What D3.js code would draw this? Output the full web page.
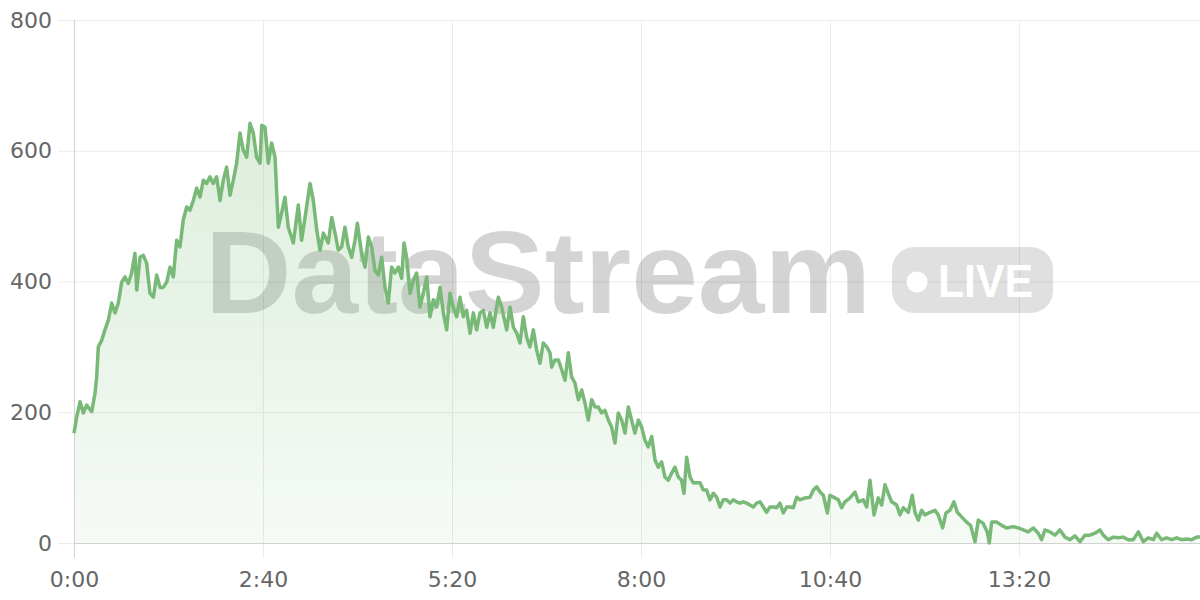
<!DOCTYPE html>
<html>
<head>
<meta charset="utf-8">
<script src="https://cdn.jsdelivr.net/npm/d3@7"></script>
<style>
  body { margin: 0; background: #fff; }
  svg { display: block; font-family: "Liberation Sans", Arial, Helvetica, sans-serif; }
</style>
</head>
<body>
<div id="chart"></div>
<script>

// Chart size and plot box
const width = 1200;
const height = 600;
const margin = {left: 74, right: 0, top: 20, bottom: 57};

// Elapsed time in seconds
const seconds = [
  0, 2.3, 5.1, 7.9, 10.7, 15, 17.8, 19.2, 20.6, 23.4, 26.2, 29.1, 31.9, 34.7, 37.5, 40.4,
  43.2, 46, 48.8, 51.6, 53.1, 55.9, 58.7, 61.5, 64.3, 67.2, 70, 72.8, 75.6, 78.5, 81.3, 84.1,
  86.9, 89.7, 92.5, 95.4, 98.2, 101, 103.9, 106.7, 109.5, 112.3, 115.1, 117.9, 120.8, 123.6,
  126.4, 129.2, 132.1, 134.9, 137.7, 140.5, 143.3, 146.2, 149, 151.8, 154.6, 157.5, 158.9,
  161.7, 164.5, 167.3, 170.2,
  173, 175.8, 178.6, 181.4, 185.7, 189.9, 192.7, 195.6, 199.8, 202.6, 205.5, 208.3, 211.1,
  215.3, 218.2, 221, 223.8, 226.6, 229.4, 232.2, 235.1, 237.9, 239.9, 243.5, 246.4, 249.2,
  252, 254.8, 257.6, 260.5, 263.3, 266.1, 268.9, 271.8, 274.6, 277.4, 279.4, 281.6, 284.5,
  287.3, 290.1, 292.9, 295.7, 298.6, 301.4, 304.2, 307, 309.9, 312.7, 315.5, 318.3, 321.1,
  324, 326.8, 329.6, 332.4, 335.3, 338.1, 340.9, 343.7, 346.5, 349.4, 352.2, 355, 359.2,
  362.1, 366.3, 369.1, 372, 374.8, 377.6, 380.4, 383.2, 386, 388.9, 391.7, 394.5, 397.3,
  400.2, 403,
  404.4, 407.2, 410, 412.9, 415.7, 418.5, 421.3, 424.1, 427, 429.8, 432.6, 435.4, 438.3,
  441.1, 443.9, 446.7, 449.5, 452.4, 455.2, 458, 460.8, 463.7, 466.5, 469.3, 472.1, 474.9,
  477.8, 480.6, 483.4, 486.2, 489.1, 491.9, 494.7, 497.5, 500.3, 503.1, 506, 508.8, 511.6,
  514.4, 516.4, 518.7, 521.5, 524.3, 527.2, 530, 532.8, 535.6, 538.4, 541.3, 544.1, 546.9,
  549.7, 552.6, 555.4, 558.2, 561, 563.8, 566.6, 569.5, 572.3, 575.1, 577.9, 580.8, 583.6,
  586.4, 589.2, 592, 594.9, 597.7, 600.5, 603.3, 606.2, 609, 611.8, 614.6,
  618.9, 623.1, 626, 628.8, 631.6, 634.4, 637.8, 640, 644.3, 647.1, 649.9, 652.7, 657,
  661.2, 664, 668.2, 671.1, 673.9, 677.3, 680.9, 683.8, 686.6, 689.4, 692.2, 696.5, 699.3,
  702.1, 706.3, 709.7, 712, 714.8, 717.6, 720.4, 724.7, 728.9, 731.7, 735.4, 738.2, 741.6,
  745, 747.8, 751.5, 755.7, 759.1, 762.8, 765.6, 769.8, 773.2, 774.9, 776.9, 781.1, 785.4,
  789.6, 795.2, 799.5, 803.7, 807.9, 812.2, 816.4, 819.2, 822, 826.3, 830.5, 834.7, 839,
  843.2, 847.4, 851.7, 855.9, 860.1, 864.4, 868.6, 871.4, 875.6, 879.9, 884.1, 888.4,
  892.6, 896.8, 901.1, 905.3, 909.5, 913.8, 916.6, 920.8, 925, 929.3, 933.5, 937.8, 942,
  946.2, 950.5, 953.3
];

// Stream value at each of those times
const values = [
  168, 193, 216, 199, 211, 201, 229, 254, 300, 310, 326, 341, 367, 352, 367, 399,
  407, 397, 413, 443, 387, 437, 440, 428, 382, 376, 410, 391, 391, 399, 422, 407,
  463, 453, 494, 514, 509, 524, 543, 529, 555, 550, 560, 550, 560, 524,
  555, 575, 532, 555, 581, 627, 601, 590, 642, 627, 590, 581, 639,
  636, 581, 612, 590,
  483, 505, 529, 483, 459, 517, 463, 498, 550, 524, 479, 448, 474,
  459, 498, 474, 448, 453, 483, 453, 437, 463, 489, 443, 422, 468,
  453, 417, 410, 437, 391, 367, 422, 413, 422, 405, 459, 437, 382,
  402, 413, 361, 382, 407, 346, 372, 361, 391, 352, 326, 382, 361,
  346, 376, 346, 356, 321, 352, 326, 352, 356, 330, 352, 330, 376,
  361, 326, 361, 330, 321, 306, 346, 315, 300, 326, 295, 275, 306,
  300, 291,
  269, 280, 280, 265, 249, 291, 254, 245, 219, 234, 214, 188, 219,
  208, 208, 199, 203, 188, 177, 153, 199, 188, 168, 208, 188, 168,
  188, 177, 157, 147, 163, 127, 116, 124, 101, 96, 107, 116, 101,
  96, 76, 131, 101, 92, 92, 92, 81, 81, 66, 76, 70, 55,
  66, 66, 61, 66, 63, 61, 63, 61, 58, 55, 61, 63, 55,
  47, 55, 55, 54, 61, 46, 55, 55, 54, 70, 66,
  69, 70, 81, 86, 78, 73, 46, 73, 69, 66, 54, 63, 69,
  78, 63, 66, 55, 96, 43, 69, 58, 89, 76, 63, 58, 43,
  54, 47, 73, 47, 35, 50, 43, 47, 50, 43, 23, 46, 50,
  63, 47, 40, 32, 27, 2, 35, 30, 17, 0, 32, 32, 27,
  23, 25, 23, 20, 17, 23, 15, 5, 20, 17, 12, 20, 9,
  5, 11, 2, 12, 12, 15, 20, 12, 5, 9, 8, 9,
  5, 5, 17, 2, 8, 5, 15, 5, 8, 5, 8, 5, 6,
  5, 9, 9
];

// Tick labels
const yTicks = [0, 200, 400, 600, 800];
const xTicks = [0, 160, 320, 480, 640, 800];

const data = seconds.map((s, i) => ({t: s, v: values[i]}));

const svg = d3.select("#chart")
  .append("svg")
  .attr("width", width)
  .attr("height", height);

// Scales
const x = d3.scaleLinear()
  .domain([0, d3.max(seconds)])
  .range([margin.left, width - margin.right]);

const y = d3.scaleLinear()
  .domain([0, 800])
  .range([height - margin.bottom, margin.top]);

const fmt = s => Math.floor(s / 60) + ":" + String(Math.round(s % 60)).padStart(2, "0");

const gridColor = "#ebebeb";
const axisColor = "#d2d2d2";
const labelColor = "#666";
const labelFont = "'DejaVu Sans', Verdana, sans-serif";

// Horizontal grid lines (across the plot)
svg.append("g")
  .attr("transform", `translate(${margin.left},0)`)
  .call(d3.axisLeft(y).tickValues(yTicks).tickSize(-(width - margin.left - margin.right)).tickFormat(""))
  .call(g => g.select(".domain").remove())
  .call(g => g.selectAll("line").attr("stroke", gridColor));

// Vertical grid lines (top of plot down past the baseline)
svg.append("g")
  .attr("transform", `translate(0,${margin.top})`)
  .call(d3.axisTop(x).tickValues(xTicks).tickSize(-(height - margin.bottom - margin.top + 15)).tickFormat(""))
  .call(g => g.select(".domain").remove())
  .call(g => g.selectAll("line").attr("stroke", d => d === 0 ? axisColor : gridColor));

// Watermark
const wm = svg.append("g").attr("class", "watermark");
wm.append("text")
  .attr("x", 205)
  .attr("y", 313)
  .attr("textLength", 666)
  .attr("lengthAdjust", "spacingAndGlyphs")
  .attr("font-size", 116)
  .attr("font-weight", "bold")
  .attr("fill", "#000")
  .attr("fill-opacity", 0.17)
  .text("DataStream");
wm.append("rect")
  .attr("x", 892).attr("y", 247)
  .attr("width", 161).attr("height", 66)
  .attr("rx", 22)
  .attr("fill", "#000")
  .attr("fill-opacity", 0.12);
wm.append("circle")
  .attr("cx", 917).attr("cy", 282).attr("r", 10.5)
  .attr("fill", "#fff");
wm.append("text")
  .attr("x", 938)
  .attr("y", 297)
  .attr("textLength", 95)
  .attr("lengthAdjust", "spacingAndGlyphs")
  .attr("font-size", 46)
  .attr("font-weight", "bold")
  .attr("fill", "#fff")
  .text("LIVE");

// Area gradient
const defs = svg.append("defs");
const grad = defs.append("linearGradient")
  .attr("id", "fillGrad")
  .attr("gradientUnits", "userSpaceOnUse")
  .attr("x1", 0).attr("x2", 0)
  .attr("y1", y(800)).attr("y2", y(0));
grad.append("stop").attr("offset", "0%").attr("stop-color", "#7aba78").attr("stop-opacity", 0.3);
grad.append("stop").attr("offset", "100%").attr("stop-color", "#7aba78").attr("stop-opacity", 0.07);

const area = d3.area()
  .x(d => x(d.t))
  .y0(y(0))
  .y1(d => y(d.v));

const line = d3.line()
  .x(d => x(d.t))
  .y(d => y(d.v));

svg.append("path")
  .datum(data)
  .attr("d", area)
  .attr("fill", "url(#fillGrad)");

// Y axis: short ticks outside and labels
svg.append("g")
  .attr("transform", `translate(${margin.left},0)`)
  .call(d3.axisLeft(y).tickValues(yTicks).tickSize(16).tickPadding(6))
  .call(g => g.select(".domain").remove())
  .call(g => g.selectAll("line").attr("stroke", gridColor))
  .call(g => g.selectAll("text")
    .attr("fill", labelColor)
    .attr("font-size", 22)
    .attr("font-family", labelFont));

// X axis: baseline, ticks and labels
svg.append("g")
  .attr("transform", `translate(0,${height - margin.bottom})`)
  .call(d3.axisBottom(x).tickValues(xTicks).tickSize(0).tickSizeOuter(0).tickPadding(28).tickFormat(fmt))
  .call(g => g.select(".domain").attr("stroke", axisColor))
  .call(g => g.selectAll("text")
    .attr("fill", labelColor)
    .attr("font-size", 22)
    .attr("font-family", labelFont));

// Y axis line
svg.append("g")
  .attr("transform", `translate(${margin.left},0)`)
  .call(d3.axisLeft(y).tickValues([]).tickSizeOuter(0))
  .call(g => g.select(".domain").attr("stroke", axisColor));

// The stream line
svg.append("path")
  .datum(data)
  .attr("d", line)
  .attr("fill", "none")
  .attr("stroke", "#79b977")
  .attr("stroke-width", 3.5)
  .attr("stroke-linejoin", "round");

</script>
</body>
</html>
